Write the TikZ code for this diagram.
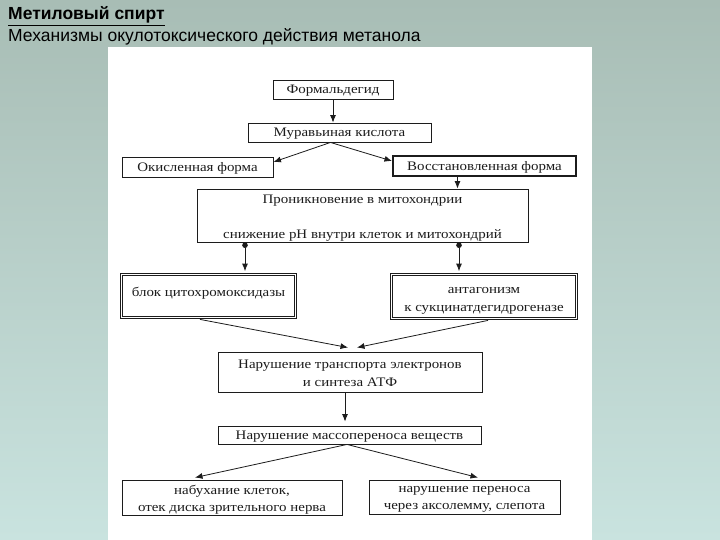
\documentclass[tikz,border=0pt]{standalone}
\usepackage{fontspec}
\setmainfont{Liberation Serif}[FakeStretch=1.15]
\newfontfamily\titlefont{Liberation Sans}
\usetikzlibrary{arrows.meta,calc}
\definecolor{bgtop}{RGB}{168,189,181}
\definecolor{bgbot}{RGB}{201,227,223}
\definecolor{ink}{RGB}{28,28,28}
\begin{document}
\begin{tikzpicture}[x=1pt,y=-1pt,
  box/.style={draw=ink,line width=0.9pt,fill=white,inner sep=0pt,align=center,text=ink,
    font=\fontsize{13}{17.5}\selectfont},
  oneline/.style={text height=9pt,text depth=0.5pt},
  thickbox/.style={box,line width=2pt},
  dblbox/.style={box,line width=1.8pt},
  inner/.style={draw=ink,line width=0.8pt},
  txt/.style={inner sep=0pt,align=center,text=ink,font=\fontsize{13}{17.5}\selectfont},
  arr/.style={draw=ink,line width=0.8pt,-{Latex[length=7.5pt,width=6pt]}},
  dotarr/.style={arr,{Circle[length=5.5pt]}-{Latex[length=7.5pt,width=6pt]}}]
\useasboundingbox (0,0) rectangle (720,540);
\shade[top color=bgtop,bottom color=bgbot] (0,0) rectangle (720,540);
\fill[white] (108,47) rectangle (592,540);
% titles
\node[anchor=base west,inner sep=0pt,font=\titlefont\bfseries\fontsize{17.5}{20}\selectfont] (title) at (8,20) {\underline{Метиловый спирт}};
\node[anchor=base west,inner sep=0pt,font=\titlefont\fontsize{17.5}{20}\selectfont] (subtitle) at (8,42) {Механизмы окулотоксического действия метанола};
% boxes
\node[box,oneline,minimum width=120pt,minimum height=19pt] (f) at (333,89.5) {Формальдегид};
\node[box,oneline,minimum width=183pt,minimum height=19pt] (m) at (339.5,132.5) {Муравьиная кислота};
\node[box,oneline,minimum width=151pt,minimum height=20pt] (ok) at (197.5,167) {Окисленная форма};
\node[thickbox,oneline,minimum width=183pt,minimum height=20pt] (vo) at (484.5,166) {Восстановленная форма};
\node[box,minimum width=331pt,minimum height=53pt] (p) at (362.5,215.5) {};
\node[txt] (p1) at (362.5,200.5) {Проникновение в митохондрии};
\node[txt] (p2) at (362.5,235.5) {снижение рН внутри клеток и митохондрий};
\node[dblbox,minimum width=176pt,minimum height=45pt] (b) at (208.5,296) {};
\draw[inner] ([shift={(3pt,3pt)}]b.south west) rectangle ([shift={(-3pt,-3pt)}]b.north east);
\node[txt] (bt) at (208.5,293) {блок цитохромоксидазы};
\node[dblbox,minimum width=187pt,minimum height=46pt] (a) at (484,296.5) {};
\draw[inner] ([shift={(3pt,3pt)}]a.south west) rectangle ([shift={(-3pt,-3pt)}]a.north east);
\node[txt] (at) at (484,301) {антагонизм\\к сукцинатдегидрогеназе};
\node[box,minimum width=264pt,minimum height=40pt] (t) at (350,372) {};
\node[txt] (tt) at (350,373.5) {Нарушение транспорта электронов\\и синтеза АТФ};
\node[box,oneline,minimum width=263pt,minimum height=18pt] (n) at (349.5,435) {Нарушение массопереноса веществ};
\node[box,minimum width=220pt,minimum height=35pt] (s) at (232,497.5) {};
\node[txt] (st) at (232,499.5) {набухание клеток,\\отек диска зрительного нерва};
\node[box,minimum width=191pt,minimum height=34pt] (r) at (464.5,497) {};
\node[txt] (rt) at (464.5,499.5) {нарушение переноса\\через аксолемму, слепота};
% connectors
\draw[arr] (f.south) -- (f.south |- m.north);
\draw[arr] ([xshift=-9pt]m.south) -- ([yshift=5pt]ok.east);
\draw[arr] ([xshift=-9pt]m.south) -- ([yshift=5pt]vo.west);
\draw[arr] ([xshift=-27pt]vo.south) -- ([xshift=-27pt]vo.south |- p.north);
\draw[dotarr] ([xshift=-117.5pt]p.south) -- ([xshift=36.5pt,yshift=1.5pt]b.north);
\draw[dotarr] ([xshift=96.5pt]p.south) -- ([xshift=-25pt,yshift=1.5pt]a.north);
\draw[arr] ([xshift=-8.5pt]b.south) -- ([xshift=-2pt,yshift=4pt]t.north);
\draw[arr] ([xshift=4pt]a.south) -- ([xshift=7pt,yshift=4pt]t.north);
\draw[arr] ([xshift=-5pt]t.south) -- ([xshift=-4.5pt,yshift=4pt]n.north);
\draw[arr] ([xshift=-2.5pt]n.south) -- ([xshift=-37pt,yshift=2pt]s.north);
\draw[arr] ([xshift=-2.5pt]n.south) -- ([xshift=13.5pt,yshift=2pt]r.north);
\end{tikzpicture}
\end{document}
